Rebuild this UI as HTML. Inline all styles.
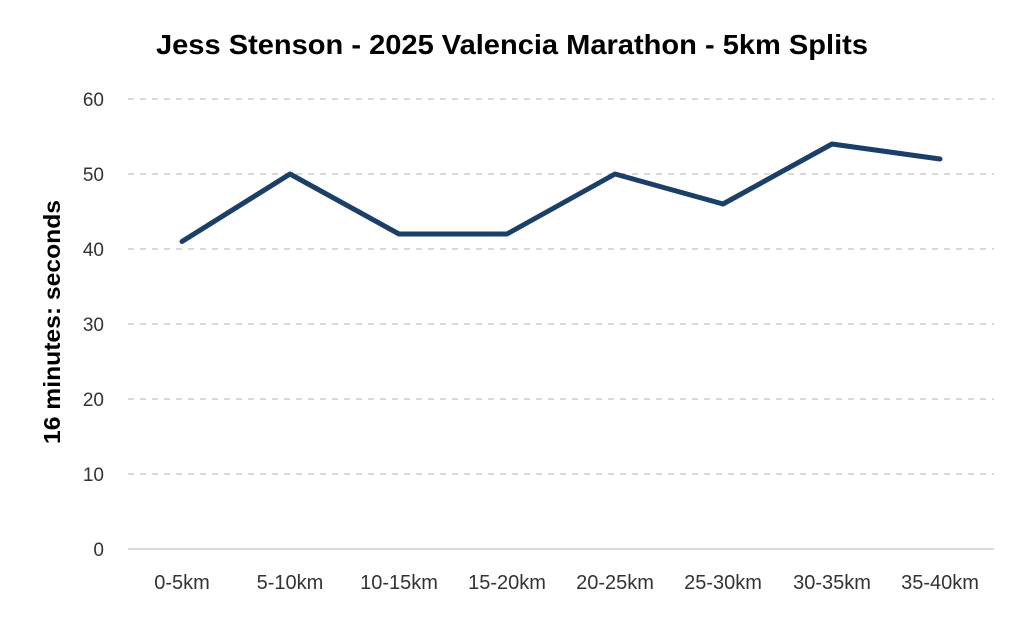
<!DOCTYPE html>
<html><head><style>body{margin:0;background:#fff}</style></head><body>
<svg width="1024" height="615" xmlns="http://www.w3.org/2000/svg" font-family="Liberation Sans, sans-serif">
<rect width="1024" height="615" fill="#fff"/>
<text x="512" y="54" text-anchor="middle" font-size="28" font-weight="bold" fill="#000" textLength="712" lengthAdjust="spacingAndGlyphs">Jess Stenson - 2025 Valencia Marathon - 5km Splits</text>
<g stroke="#d9d9d9" stroke-width="2" stroke-dasharray="6,6">
<line x1="128" x2="994" y1="99" y2="99"/><line x1="128" x2="994" y1="174" y2="174"/><line x1="128" x2="994" y1="249" y2="249"/><line x1="128" x2="994" y1="324" y2="324"/><line x1="128" x2="994" y1="399" y2="399"/><line x1="128" x2="994" y1="474" y2="474"/>
</g>
<line x1="128" x2="994" y1="549" y2="549" stroke="#d9d9d9" stroke-width="2"/>
<g font-size="19" fill="#333" text-anchor="end">
<text x="104" y="106">60</text><text x="104" y="181">50</text><text x="104" y="256">40</text><text x="104" y="331">30</text><text x="104" y="406">20</text><text x="104" y="481">10</text><text x="104" y="556">0</text>
</g>
<g font-size="20" fill="#333" text-anchor="middle">
<text x="182" y="589">0-5km</text><text x="290" y="589">5-10km</text><text x="399" y="589">10-15km</text><text x="507" y="589">15-20km</text><text x="615" y="589">20-25km</text><text x="723" y="589">25-30km</text><text x="832" y="589">30-35km</text><text x="940" y="589">35-40km</text>
</g>
<text transform="translate(60,322) rotate(-90)" text-anchor="middle" font-size="23" font-weight="bold" fill="#000" textLength="244" lengthAdjust="spacingAndGlyphs">16 minutes: seconds</text>
<polyline fill="none" stroke="#1b3f66" stroke-width="5" stroke-linejoin="round" stroke-linecap="round" points="182,241.5 290,174 399,234 507,234 615,174 723,204 832,144 940,159"/>
</svg>
</body></html>
